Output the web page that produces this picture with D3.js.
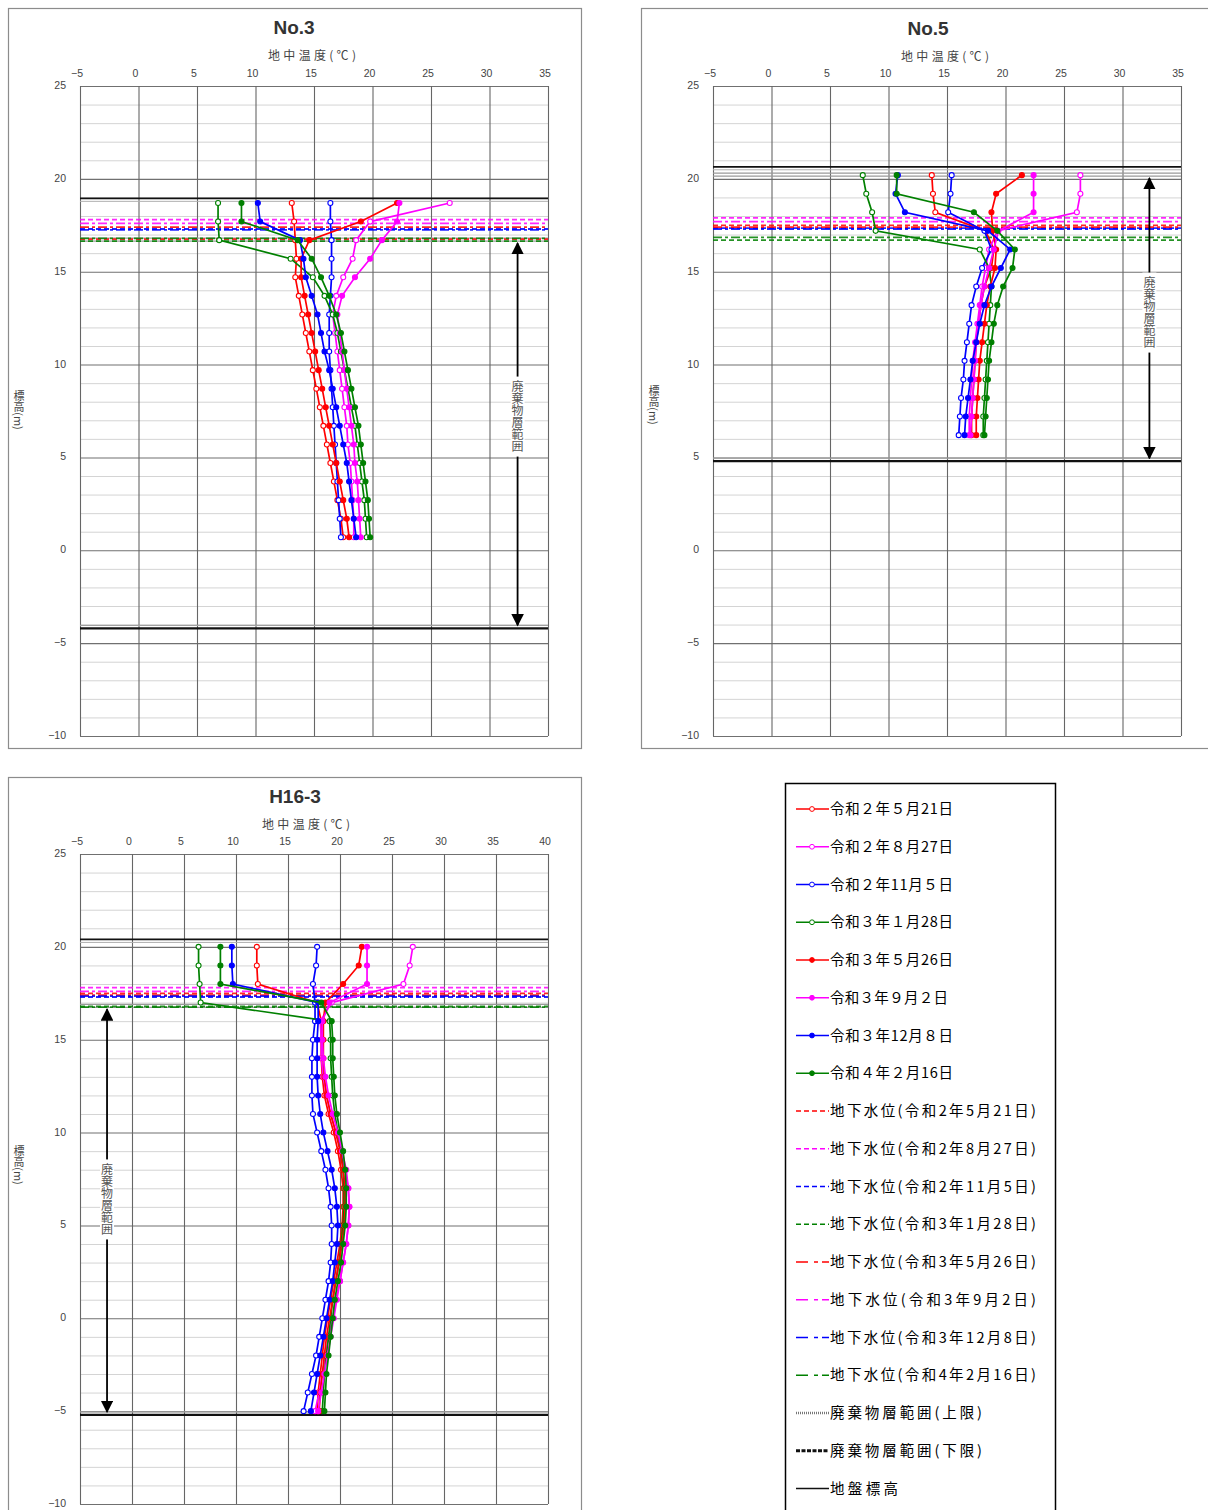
<!DOCTYPE html>
<html><head><meta charset="utf-8">
<script src="https://cdn.jsdelivr.net/npm/d3@7"></script>
<style>body{margin:0;background:#fff}svg{display:block}</style>
</head><body>
<svg id="c" width="1208" height="1510"></svg>
<script>
// ---------- data ----------
const seriesNames = ["令和２年５月21日","令和２年８月27日","令和２年11月５日","令和３年１月28日",
  "令和３年５月26日","令和３年９月２日","令和３年12月８日","令和４年２月16日"];
const gwNames = ["地下水位(令和2年5月21日)","地下水位(令和2年8月27日)","地下水位(令和2年11月5日)","地下水位(令和3年1月28日)",
  "地下水位(令和3年5月26日)","地下水位(令和3年9月2日)","地下水位(令和3年12月8日)","地下水位(令和4年2月16日)"];
const structNames = ["廃棄物層範囲(上限)","廃棄物層範囲(下限)","地盤標高"];
const seriesColors = ["#ff0000","#ff00ff","#0000ff","#008000","#ff0000","#ff00ff","#0000ff","#008000"];
const yTicks = [25,20,15,10,5,0,-5,-10];
const xTicksNo = [-5,0,5,10,15,20,25,30,35];
const xTicksH = [-5,0,5,10,15,20,25,30,35,40];

// No.3
const no3Elev = [18.7,17.7,16.7,15.7,14.7,13.7,12.7,11.7,10.7,9.7,8.7,7.7,6.7,5.7,4.7,3.7,2.7,1.7,0.7];
const no3Temps = [
  [13.1,13.3,13.4,13.5,13.4,13.7,14.0,14.3,14.6,14.9,15.2,15.5,15.8,16.1,16.4,16.7,17.0,17.3,17.5],
  [26.6,19.8,18.6,18.3,17.5,16.9,16.6,16.8,17.0,17.2,17.4,17.6,17.8,17.9,18.1,18.2,18.3,18.4,18.4],
  [16.4,16.4,16.5,16.5,16.5,16.4,16.3,16.3,16.3,16.4,16.5,16.6,16.7,16.8,16.9,17.0,17.1,17.2,17.3],
  [6.8,6.8,6.9,13.0,14.9,15.9,16.6,17.0,17.3,17.6,17.9,18.2,18.5,18.7,18.9,19.1,19.3,19.4,19.5],
  [22.1,19.0,14.6,13.9,13.9,14.2,14.5,14.8,15.1,15.4,15.7,16.0,16.3,16.6,16.9,17.2,17.5,17.8,18.0],
  [22.3,22.1,20.8,19.8,18.5,17.4,17.0,17.2,17.4,17.6,17.8,18.0,18.2,18.4,18.5,18.7,18.8,18.9,19.0],
  [10.2,10.4,13.8,14.1,14.3,14.8,15.3,15.6,15.9,16.3,16.6,16.9,17.2,17.5,17.8,18.0,18.2,18.4,18.6],
  [8.8,8.8,13.6,14.8,15.6,16.3,16.9,17.3,17.6,17.9,18.2,18.5,18.8,19.0,19.2,19.4,19.6,19.7,19.8]
];
const no3GW = [16.75,17.8,17.3,16.65,17.4,17.6,17.25,16.8];
const no3Struct = [16.7,-4.2,18.95]; // upper, lower, ground

// No.5
const no5Elev = [20.2,19.2,18.2,17.2,16.2,15.2,14.2,13.2,12.2,11.2,10.2,9.2,8.2,7.2,6.2];
const no5Temps = [
  [13.7,13.8,14.0,18.3,19.0,18.8,18.2,17.9,17.7,17.5,17.4,17.3,17.2,17.1,17.1],
  [26.4,26.4,26.1,19.3,18.6,18.3,18.0,17.8,17.6,17.4,17.2,17.1,17.0,16.9,16.9],
  [15.4,15.3,15.1,18.2,18.8,18.0,17.5,17.1,16.9,16.7,16.5,16.4,16.2,16.1,16.0],
  [7.8,8.1,8.6,8.9,17.8,18.6,18.8,18.7,18.6,18.5,18.4,18.3,18.2,18.1,18.1],
  [21.4,19.2,18.8,18.9,19.2,19.1,18.7,18.4,18.2,18.0,17.8,17.7,17.6,17.5,17.5],
  [22.4,22.4,22.4,19.4,19.0,18.6,18.2,17.9,17.7,17.5,17.4,17.3,17.2,17.1,17.0],
  [10.8,10.6,11.4,18.5,20.4,19.6,18.8,18.2,17.8,17.5,17.2,17.0,16.8,16.6,16.5],
  [10.7,10.7,17.3,19.3,20.8,20.6,19.8,19.3,19.0,18.8,18.6,18.5,18.4,18.3,18.2]
];
const no5GW = [17.5,17.9,17.35,16.7,17.4,17.7,17.3,16.85];
const no5Struct = [20.2,4.8,20.65];

// H16-3
const h163Elev = [20,19,18,17,16,15,14,13,12,11,10,9,8,7,6,5,4,3,2,1,0,-1,-2,-3,-4,-5];
const h163Temps = [
  [12.0,12.0,12.1,17.8,18.2,18.2,18.2,18.3,18.5,18.9,19.4,19.8,20.1,20.3,20.3,20.2,20.0,19.7,19.4,19.1,18.8,18.5,18.3,18.1,17.9,17.8],
  [27.0,26.7,26.1,19.2,18.1,18.2,18.2,18.4,18.7,19.1,19.6,20.1,20.5,20.8,20.9,20.8,20.6,20.3,20.0,19.6,19.3,18.9,18.6,18.3,18.0,17.6],
  [17.8,17.7,17.4,17.6,17.6,17.4,17.3,17.3,17.3,17.4,17.8,18.2,18.6,18.9,19.1,19.2,19.2,19.1,18.9,18.6,18.3,18.0,17.7,17.3,16.9,16.5],
  [6.4,6.4,6.5,6.6,19.0,19.1,19.1,19.2,19.3,19.5,19.8,20.1,20.3,20.4,20.4,20.3,20.1,19.9,19.6,19.3,19.1,18.9,18.7,18.5,18.4,18.3],
  [22.1,21.8,20.3,18.6,18.4,18.4,18.4,18.5,18.7,19.1,19.6,20.0,20.3,20.5,20.5,20.4,20.2,19.9,19.6,19.3,19.0,18.7,18.5,18.3,18.1,18.0],
  [22.6,22.6,22.6,19.0,18.3,18.3,18.4,18.6,18.9,19.3,19.8,20.2,20.6,20.8,20.9,20.8,20.6,20.3,20.0,19.7,19.4,19.1,18.8,18.5,18.2,17.9],
  [9.6,9.6,9.7,17.9,17.9,17.8,17.8,17.8,17.9,18.1,18.4,18.8,19.2,19.5,19.7,19.8,19.7,19.5,19.3,19.0,18.7,18.4,18.1,17.8,17.5,17.2],
  [8.5,8.5,8.5,18.2,19.2,19.3,19.3,19.4,19.5,19.7,20.0,20.3,20.5,20.6,20.6,20.5,20.3,20.1,19.8,19.5,19.3,19.1,18.9,18.7,18.6,18.5]
];
const h163GW = [17.5,17.8,17.3,16.8,17.4,17.6,17.35,16.75];
const h163Struct = [16.8,-5.2,20.4];

// ---------- drawing ----------
const svg = d3.select("#c");
const JP = "'Noto Sans CJK JP','Noto Sans',sans-serif";
const LAT = "'Liberation Sans',Arial,sans-serif";
const defs = svg.append("defs");
defs.append("marker").attr("id","arr").attr("viewBox","0 0 10 10").attr("refX",9).attr("refY",5)
  .attr("markerWidth",7).attr("markerHeight",7).attr("orient","auto-start-reverse")
  .append("path").attr("d","M0,0L10,5L0,10Z").attr("fill","#000");

const panels = [
  {title:"No.3", elev:no3Elev, temps:no3Temps, gw:no3GW, st:no3Struct, xt:xTicksNo,
   frame:[8,8,573,740], xr:[80,548], yr:[736,86], arrowT:32.4, labelE:7.2, titleX:294, titleY:34, atX:312, atY:60, tickY:77, ylabX:19, ylabY:410},
  {title:"No.5", elev:no5Elev, temps:no5Temps, gw:no5GW, st:no5Struct, xt:xTicksNo,
   frame:[641,8,580,740], xr:[713,1181], yr:[736,86], arrowT:32.3, labelE:12.8, titleX:928, titleY:35, atX:945, atY:61, tickY:77, ylabX:654, ylabY:405},
  {title:"H16-3", elev:h163Elev, temps:h163Temps, gw:h163GW, st:h163Struct, xt:xTicksH,
   frame:[8,777,573,745], xr:[80,548], yr:[1504,854], arrowT:-2.4, labelE:6.4, titleX:295, titleY:803, atX:306, atY:829, tickY:845, ylabX:19, ylabY:1165}
];

panels.forEach(p => {
  const g = svg.append("g");
  const xt = p.xt;
  const x = d3.scaleLinear().domain([xt[0], xt[xt.length-1]]).range(p.xr);
  const y = d3.scaleLinear().domain([-10,25]).range(p.yr);
  // frame
  g.append("rect").attr("x",p.frame[0]+0.5).attr("y",p.frame[1]+0.5).attr("width",p.frame[2]).attr("height",p.frame[3])
    .attr("fill","#fff").attr("stroke","#8c8c8c").attr("stroke-width",1.2);
  // minor horizontal grid
  const minor = d3.range(-10,26,1).filter(v => v%5!==0);
  g.selectAll(".mn").data(minor).enter().append("line")
    .attr("x1",p.xr[0]).attr("x2",p.xr[1]).attr("y1",d=>y(d)+0.5).attr("y2",d=>y(d)+0.5)
    .attr("stroke","#d4d4d4").attr("stroke-width",1);
  // major horizontal grid
  g.selectAll(".mj").data(yTicks).enter().append("line")
    .attr("x1",p.xr[0]).attr("x2",p.xr[1]).attr("y1",d=>y(d)+0.5).attr("y2",d=>y(d)+0.5)
    .attr("stroke","#707070").attr("stroke-width",1.1);
  // vertical grid
  g.selectAll(".vg").data(xt).enter().append("line")
    .attr("x1",d=>x(d)+0.5).attr("x2",d=>x(d)+0.5).attr("y1",p.yr[1]).attr("y2",p.yr[0])
    .attr("stroke","#666").attr("stroke-width",1.1);
  // tick labels
  g.selectAll(".xl").data(xt).enter().append("text")
    .attr("x",d=>x(d)-3).attr("y",p.tickY).attr("text-anchor","middle")
    .attr("font-family",LAT).attr("font-size",10.5).attr("fill","#444").text(d=>d<0?"\u2212"+(-d):d);
  g.selectAll(".yl").data(yTicks).enter().append("text")
    .attr("x",p.xr[0]-14).attr("y",d=>y(d)+3).attr("text-anchor","end")
    .attr("font-family",LAT).attr("font-size",10.5).attr("fill","#444").text(d=>d<0?"\u2212"+(-d):d);
  // titles
  g.append("text").attr("x",p.titleX).attr("y",p.titleY).attr("text-anchor","middle")
    .attr("font-family",LAT).attr("font-weight","bold").attr("font-size",19).attr("fill","#333").text(p.title);
  g.append("text").attr("x",p.atX).attr("y",p.atY).attr("text-anchor","middle")
    .attr("font-family",JP).attr("font-size",12).attr("fill","#444")
    .attr("textLength",88).attr("lengthAdjust","spacing").text("地中温度(℃)");
  g.append("text").attr("x",p.ylabX).attr("y",p.ylabY).attr("text-anchor","middle")
    .attr("font-family",JP).attr("font-size",11).attr("fill","#444")
    .style("writing-mode","vertical-rl").text("標高(m)");
  // structure lines
  const [up, lo, gr] = p.st;
  [-2,1].forEach(o => g.append("line").attr("x1",p.xr[0]).attr("x2",p.xr[1])
    .attr("y1",y(up)+o).attr("y2",y(up)+o).attr("stroke","#9a9a9a").attr("stroke-width",1.2));
  g.append("line").attr("x1",p.xr[0]).attr("x2",p.xr[1]).attr("y1",y(lo)-3).attr("y2",y(lo)-3)
    .attr("stroke","#a0a0a0").attr("stroke-width",1.2);
  g.append("line").attr("x1",p.xr[0]).attr("x2",p.xr[1]).attr("y1",y(lo)).attr("y2",y(lo))
    .attr("stroke","#111").attr("stroke-width",2.2);
  g.append("line").attr("x1",p.xr[0]).attr("x2",p.xr[1]).attr("y1",y(gr)).attr("y2",y(gr))
    .attr("stroke","#111").attr("stroke-width",1.8);
  g.append("line").attr("x1",p.xr[0]).attr("x2",p.xr[1]).attr("y1",y(gr)+3).attr("y2",y(gr)+3)
    .attr("stroke","#b0b0b0").attr("stroke-width",1);
  // groundwater lines
  p.gw.forEach((v,i) => g.append("line").attr("x1",p.xr[0]).attr("x2",p.xr[1]).attr("y1",y(v)).attr("y2",y(v))
    .attr("stroke",seriesColors[i]).attr("stroke-width",1.8)
    .attr("stroke-dasharray", i<4 ? "5,3" : "9,3,3,3").attr("opacity",0.85));
  // series
  const line = d3.line().x(d=>x(d[0])).y(d=>y(d[1]));
  p.temps.forEach((ts,i) => {
    const pts = ts.map((t,k)=>[t,p.elev[k]]);
    g.append("path").attr("d",line(pts)).attr("fill","none").attr("stroke",seriesColors[i]).attr("stroke-width",1.7);
    g.selectAll(null).data(pts).enter().append("circle")
      .attr("cx",d=>x(d[0])).attr("cy",d=>y(d[1])).attr("r",2.5)
      .attr("fill", i<4 ? "#fff" : seriesColors[i]).attr("stroke",seriesColors[i]).attr("stroke-width",1.1);
  });
  // arrow
  g.append("line").attr("x1",x(p.arrowT)).attr("x2",x(p.arrowT)).attr("y1",y(up)+3).attr("y2",y(lo)-3)
    .attr("stroke","#000").attr("stroke-width",1.8)
    .attr("marker-start","url(#arr)").attr("marker-end","url(#arr)");
  const ly = y(p.labelE);
  g.append("rect").attr("x",x(p.arrowT)-7).attr("y",ly-40).attr("width",14).attr("height",80).attr("fill","#fff");
  g.append("text").attr("x",x(p.arrowT)).attr("y",ly).attr("text-anchor","middle").attr("dominant-baseline","central")
    .attr("font-family",JP).attr("font-size",12).attr("fill","#555")
    .style("writing-mode","vertical-rl").text("廃棄物層範囲");
});

// ---------- legend ----------
const lg = svg.append("g");
lg.append("rect").attr("x",785.5).attr("y",783.5).attr("width",270).attr("height",740)
  .attr("fill","#fff").attr("stroke","#000").attr("stroke-width",1.5);
const legendItems = [];
seriesNames.forEach((n,i)=>legendItems.push({kind:"s",i,n}));
gwNames.forEach((n,i)=>legendItems.push({kind:"g",i,n}));
structNames.forEach((n,i)=>legendItems.push({kind:"t",i,n}));
legendItems.forEach((d,k) => {
  const yy = 809 + k*37.75;
  if (d.kind==="s") {
    lg.append("line").attr("x1",796).attr("x2",829).attr("y1",yy).attr("y2",yy).attr("stroke",seriesColors[d.i]).attr("stroke-width",1.5);
    lg.append("circle").attr("cx",812).attr("cy",yy).attr("r",2.4)
      .attr("fill", d.i<4 ? "#fff" : seriesColors[d.i]).attr("stroke",seriesColors[d.i]);
  } else if (d.kind==="g") {
    lg.append("line").attr("x1",796).attr("x2",829).attr("y1",yy).attr("y2",yy).attr("stroke",seriesColors[d.i]).attr("stroke-width",1.5)
      .attr("stroke-dasharray", d.i<4 ? "5,3" : "12,6,4,4");
  } else if (d.i===0) {
    lg.append("line").attr("x1",796).attr("x2",829).attr("y1",yy).attr("y2",yy).attr("stroke","#777").attr("stroke-width",2.5).attr("stroke-dasharray","1,1");
  } else if (d.i===1) {
    lg.append("line").attr("x1",796).attr("x2",829).attr("y1",yy).attr("y2",yy).attr("stroke","#111").attr("stroke-width",3).attr("stroke-dasharray","4,1.5");
  } else {
    lg.append("line").attr("x1",796).attr("x2",829).attr("y1",yy).attr("y2",yy).attr("stroke","#111").attr("stroke-width",1.4);
  }
  const t = lg.append("text").attr("x",830).attr("y",yy+5).attr("font-family",JP).attr("font-size",14.5).attr("fill","#000").text(d.n);
  const len = d.kind==="s" ? (d.i===5 ? 118 : 123) : d.kind==="g" ? 206 : (d.i===2 ? 68 : 152);
  t.attr("textLength",len).attr("lengthAdjust","spacing");
});
</script>
</body></html>
